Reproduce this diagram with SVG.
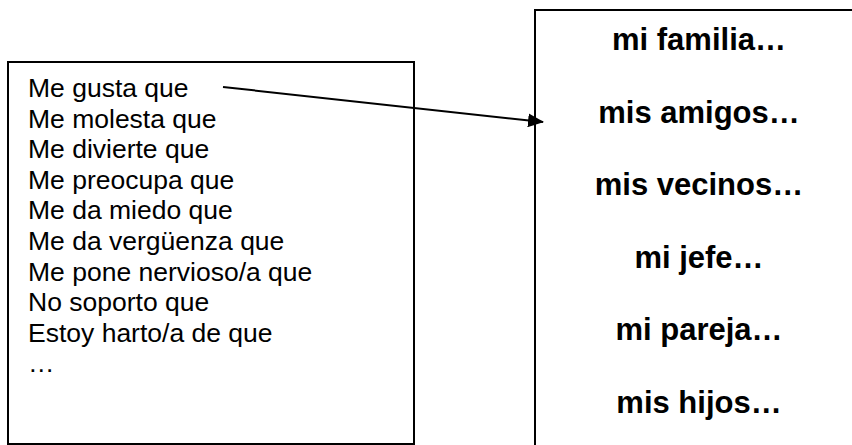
<svg xmlns="http://www.w3.org/2000/svg" width="852" height="445" viewBox="0 0 852 445">
<style>
.box{fill:#fff;stroke:#000;stroke-width:2}
.lt{font-family:"Liberation Sans",Arial,sans-serif;font-size:26.5px;fill:#000}
.rt{font-family:"Liberation Sans",Arial,sans-serif;font-size:31px;font-weight:bold;fill:#000;text-anchor:middle}
.conn{stroke:#000;stroke-width:2;fill:none}
</style>
<defs>
<marker id="ah" markerUnits="userSpaceOnUse" markerWidth="16" markerHeight="14" refX="15" refY="7" orient="auto">
<path d="M0,0 L16,7 L0,14 Z" fill="#000"/>
</marker>
</defs>
<rect width="852" height="445" fill="#fff"/>
<g id="left-box">
<rect class="box" x="8" y="62" width="406" height="382"/>
<text class="lt" x="28" y="97">Me gusta que</text>
<text class="lt" x="28" y="127.6">Me molesta que</text>
<text class="lt" x="28" y="158.2">Me divierte que</text>
<text class="lt" x="28" y="188.8">Me preocupa que</text>
<text class="lt" x="28" y="219.4">Me da miedo que</text>
<text class="lt" x="28" y="250">Me da vergüenza que</text>
<text class="lt" x="28" y="280.6">Me pone nervioso/a que</text>
<text class="lt" x="28" y="311.2">No soporto que</text>
<text class="lt" x="28" y="341.8">Estoy harto/a de que</text>
<text class="lt" x="28" y="372.4">…</text>
</g>
<g id="right-box">
<rect class="box" x="535" y="10" width="330" height="445"/>
<text class="rt" x="699" y="50">mi familia…</text>
<text class="rt" x="699" y="122.5">mis amigos…</text>
<text class="rt" x="699" y="195">mis vecinos…</text>
<text class="rt" x="699" y="267.5">mi jefe…</text>
<text class="rt" x="699" y="340">mi pareja…</text>
<text class="rt" x="699" y="412.5">mis hijos…</text>
</g>
<g id="connectors">
<line class="conn" x1="223" y1="87" x2="543" y2="122" marker-end="url(#ah)"/>
</g>
</svg>
